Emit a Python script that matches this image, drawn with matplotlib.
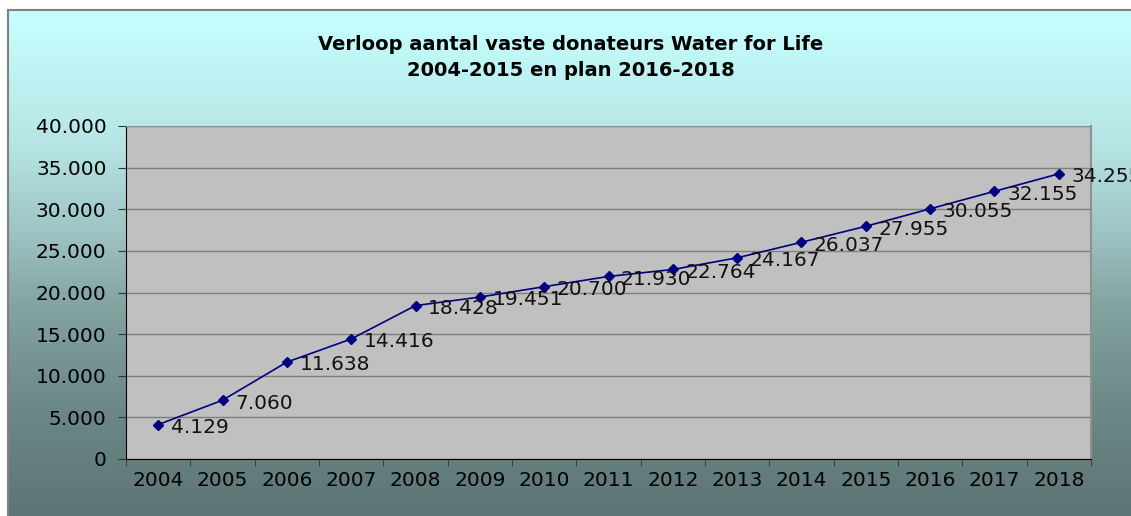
import numpy as np
import matplotlib
matplotlib.use('Agg')
import matplotlib.pyplot as plt
from matplotlib.colors import LinearSegmentedColormap

years = ['2004', '2005', '2006', '2007', '2008', '2009', '2010', '2011',
         '2012', '2013', '2014', '2015', '2016', '2017', '2018']
donors = [4129, 7060, 11638, 14416, 18428, 19451, 20700, 21930,
          22764, 24167, 26037, 27955, 30055, 32155, 34255]
y_ticks = [0, 5000, 10000, 15000, 20000, 25000, 30000, 35000, 40000]

def nl_fmt(v):
    return f"{v:,.0f}".replace(',', '.')

plt.rcParams['font.family'] = ['DejaVu Sans']

W, H = 1131, 516
fig = plt.figure(figsize=(W / 100, H / 100), dpi=100)
fig.patch.set_facecolor('white')

# background panel with vertical gradient (right/bottom edges run off the canvas)
bg = fig.add_axes([8 / W, -0.02, 1.0, 1.02 - 10 / H])
grad = LinearSegmentedColormap.from_list('bg', [
    (0.0, '#5d7373'), (0.22, '#6b8787'), (0.42, '#82a2a0'),
    (0.58, '#a0c6c6'), (0.75, '#b8e6e6'), (1.0, '#c6ffff')])
bg.imshow(np.linspace(0, 1, 256).reshape(-1, 1), aspect='auto', cmap=grad,
          origin='lower', extent=[0, 1, 0, 1])
bg.set_xlim(0, 1); bg.set_ylim(0, 1)
bg.set_xticks([]); bg.set_yticks([])
for s in bg.spines.values():
    s.set_color('#808080'); s.set_linewidth(1.5)

fig.text(571 / W, 1 - 45 / H, 'Verloop aantal vaste donateurs Water for Life',
         ha='center', va='center', fontsize=14, fontweight='bold')
fig.text(571 / W, 1 - 71 / H, '2004-2015 en plan 2016-2018',
         ha='center', va='center', fontsize=14, fontweight='bold')

left, right, top, bottom = 126, 1091, 126, 459
ax = fig.add_axes([left / W, 1 - bottom / H, (right - left) / W, (bottom - top) / H])
ax.set_facecolor('#c0c0c0')
x = np.arange(len(years))
ax.plot(x, donors, color='#000080', linewidth=1.2, marker='D', markersize=5,
        zorder=3, clip_on=False)
for xi, v in zip(x, donors):
    ax.annotate(nl_fmt(v), (xi, v), xytext=(9, -2), textcoords='offset points',
                ha='left', va='center', fontsize=14.5, color='#111111',
                annotation_clip=False, zorder=4)

ax.set_xlim(-0.5, len(years) - 0.5)
ax.set_ylim(0, 40000)
ax.set_yticks(y_ticks)
ax.set_yticklabels([nl_fmt(v) for v in y_ticks])
ax.yaxis.grid(True, color='#7f7f7f', linewidth=1)
ax.set_axisbelow(True)
ax.set_xticks(x)
ax.set_xticklabels(years)
ax.set_xticks(np.arange(-0.5, len(years)), minor=True)
ax.tick_params(axis='x', which='major', length=0, pad=9, labelsize=14.5)
ax.tick_params(axis='x', which='minor', length=5, direction='out', color='#333333')
ax.tick_params(axis='y', length=6, direction='out', labelsize=14.5, pad=8,
               color='#333333')
ax.spines['left'].set_color('black')
ax.spines['bottom'].set_color('black')
ax.spines['top'].set_color('#909090')
ax.spines['right'].set_color('#909090')
ax.spines['right'].set_linewidth(1.5)

fig.savefig('out.png', dpi=100)
